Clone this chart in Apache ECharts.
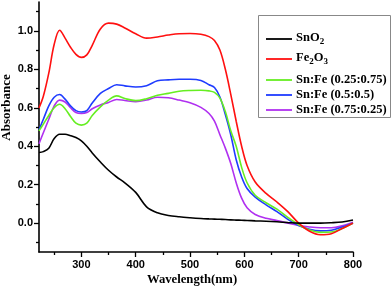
<!DOCTYPE html>
<html><head><meta charset="utf-8">
<script src="https://cdn.jsdelivr.net/npm/echarts@6/dist/echarts.min.js"></script>
<style>html,body{margin:0;padding:0;background:#fff}#c{width:392px;height:291px}</style>
</head><body><div id="c"></div>
<script>
var wavelength = [222,230,240,250,260,270,280,290,300,310,320,335,350,365,380,400,420,440,460,480,500,520,535,545,555,565,575,585,595,605,620,640,660,680,700,720,740,760,780,800];
var snO2 = [0.367,0.372,0.39,0.44,0.462,0.462,0.455,0.445,0.428,0.40,0.365,0.318,0.275,0.24,0.21,0.16,0.085,0.054,0.04,0.033,0.028,0.024,0.022,0.021,0.02,0.019,0.017,0.016,0.015,0.014,0.012,0.01,0.007,0.003,0.0,0.0,0.0,0.002,0.006,0.016];
var fe2O3 = [0.599,0.66,0.78,0.93,1.003,0.962,0.915,0.878,0.862,0.875,0.925,1.01,1.04,1.035,1.015,0.985,0.962,0.968,0.978,0.985,0.986,0.982,0.97,0.95,0.90,0.80,0.67,0.53,0.40,0.30,0.214,0.155,0.11,0.06,0.0,-0.042,-0.06,-0.055,-0.028,0.0];
var snFe2575 = [0.48,0.515,0.56,0.60,0.618,0.595,0.555,0.52,0.51,0.52,0.56,0.605,0.64,0.662,0.648,0.637,0.647,0.665,0.675,0.686,0.69,0.691,0.688,0.68,0.65,0.58,0.48,0.40,0.29,0.21,0.145,0.106,0.073,0.03,-0.008,-0.036,-0.048,-0.046,-0.028,0.0];
var snFe5050 = [0.486,0.54,0.61,0.655,0.669,0.645,0.61,0.585,0.578,0.585,0.625,0.675,0.70,0.72,0.714,0.708,0.715,0.74,0.745,0.748,0.748,0.742,0.72,0.705,0.656,0.565,0.46,0.33,0.24,0.18,0.135,0.095,0.06,0.02,-0.012,-0.032,-0.04,-0.037,-0.02,0.0];
var snFe7525 = [0.413,0.47,0.54,0.61,0.64,0.63,0.60,0.575,0.57,0.575,0.595,0.615,0.628,0.643,0.638,0.632,0.64,0.655,0.652,0.64,0.626,0.602,0.57,0.53,0.46,0.39,0.31,0.21,0.13,0.08,0.045,0.025,0.014,0.0,-0.012,-0.02,-0.024,-0.024,-0.014,0.005];
var seriesNames = ['SnO2','Fe2O3','Sn:Fe (0.25:0.75)','Sn:Fe (0.5:0.5)','Sn:Fe (0.75:0.25)'];
var legendLabels = ['{b|SnO}{s|2}','{b|Fe}{s|2}{b|O}{s|3}','{b|Sn:Fe (0.25:0.75)}','{b|Sn:Fe (0.5:0.5)}','{b|Sn:Fe (0.75:0.25)}'];
var seriesColors = ['#000000','#ff1010','#66ee22','#1f3cff','#b030f0'];
var xTicks = [300,400,500,600,700,800];
var xMinorTicks = [250,350,450,550,650,750];
var yTicks = [0,0.2,0.4,0.6,0.8,1.0];
var yMinorTicks = [-0.1,0.1,0.3,0.5,0.7,0.9,1.1];

var allValues = [snO2, fe2O3, snFe2575, snFe5050, snFe7525];
function pairs(vals){ return wavelength.map(function(w,i){return [w, vals[i]];}); }

var chart = echarts.init(document.getElementById('c'), null, {renderer:'canvas'});
var serif = '"Liberation Serif","Times New Roman",serif';
var sans = '"Liberation Sans",Arial,sans-serif';
var grid = {left:39, right:39, top:2, bottom:39, containLabel:false, outerBoundsMode:'none'};
var series = seriesNames.map(function(n,i){
  return {name:n, type:'line', data:pairs(allValues[i]), showSymbol:false, symbol:'none', smooth:0.35,
    lineStyle:{color:seriesColors[i], width:1.6}, itemStyle:{color:seriesColors[i]}, z:10-i, animation:false};
});
var FS = 12.5;
var richBase = {fontFamily:serif, fontWeight:'bold', fontSize:FS, fill:'#000'};
var rowY = [24, 44, 65, 80, 95];
var legendChildren = [{type:'rect', shape:{x:0.5, y:0.5, width:132, height:102}, style:{fill:'#fff', stroke:'#888', lineWidth:1}}];
seriesNames.forEach(function(n,i){
  legendChildren.push({type:'line', shape:{x1:8, y1:rowY[i], x2:34, y2:rowY[i]}, style:{stroke:seriesColors[i], lineWidth:1.8}});
  legendChildren.push({type:'text', x:38, y:rowY[i]-(i<2?1:0), style:{text:legendLabels[i], verticalAlign:'middle', align:'left',
    rich:{b:Object.assign({}, richBase), s:Object.assign({}, richBase, {fontSize:9, padding:[7,0,0,0]})}}});
});
chart.setOption({
  animation:false,
  grid:grid,
  graphic:[{type:'group', left:258, top:15, z:100, children:legendChildren}],
  xAxis:[{
    type:'value', min:222, max:800, name:'Wavelength(nm)', nameLocation:'middle', nameGap:21, nameMoveOverlap:false,
    nameTextStyle:{fontFamily:serif, fontWeight:'bold', fontSize:12.7, color:'#000', padding:[0,8,0,0]},
    axisLine:{onZero:false, lineStyle:{color:'#000', width:1.6}},
    axisTick:{show:true, customValues:xTicks, length:5, lineStyle:{color:'#000', width:1.3}},
    axisLabel:{customValues:xTicks, fontFamily:sans, fontWeight:'bold', fontSize:11, color:'#000', margin:7},
    splitLine:{show:false}
  },{
    type:'value', min:222, max:800, position:'bottom', gridIndex:0,
    axisLine:{show:false, onZero:false}, axisLabel:{show:false}, splitLine:{show:false},
    axisTick:{show:true, customValues:xMinorTicks, length:3, lineStyle:{color:'#000', width:1.3}}
  }],
  yAxis:[{
    type:'value', min:-0.15, max:1.15, name:'Absorbance', nameLocation:'middle', nameGap:26, nameRotate:90, nameMoveOverlap:false,
    nameTextStyle:{fontFamily:serif, fontWeight:'bold', fontSize:13, color:'#000', padding:[0,0,0,39]},
    axisLine:{onZero:false, lineStyle:{color:'#000', width:1.6}},
    axisTick:{show:true, customValues:yTicks, length:5, lineStyle:{color:'#000', width:1.3}},
    axisLabel:{customValues:yTicks, formatter:function(v){return v.toFixed(1);}, fontFamily:sans, fontWeight:'bold', fontSize:11, color:'#000', margin:6},
    splitLine:{show:false}
  },{
    type:'value', min:-0.15, max:1.15, position:'left', gridIndex:0,
    axisLine:{show:false, onZero:false}, axisLabel:{show:false}, splitLine:{show:false},
    axisTick:{show:true, customValues:yMinorTicks, length:3, lineStyle:{color:'#000', width:1.3}}
  }],
  series:series
});
</script></body></html>
